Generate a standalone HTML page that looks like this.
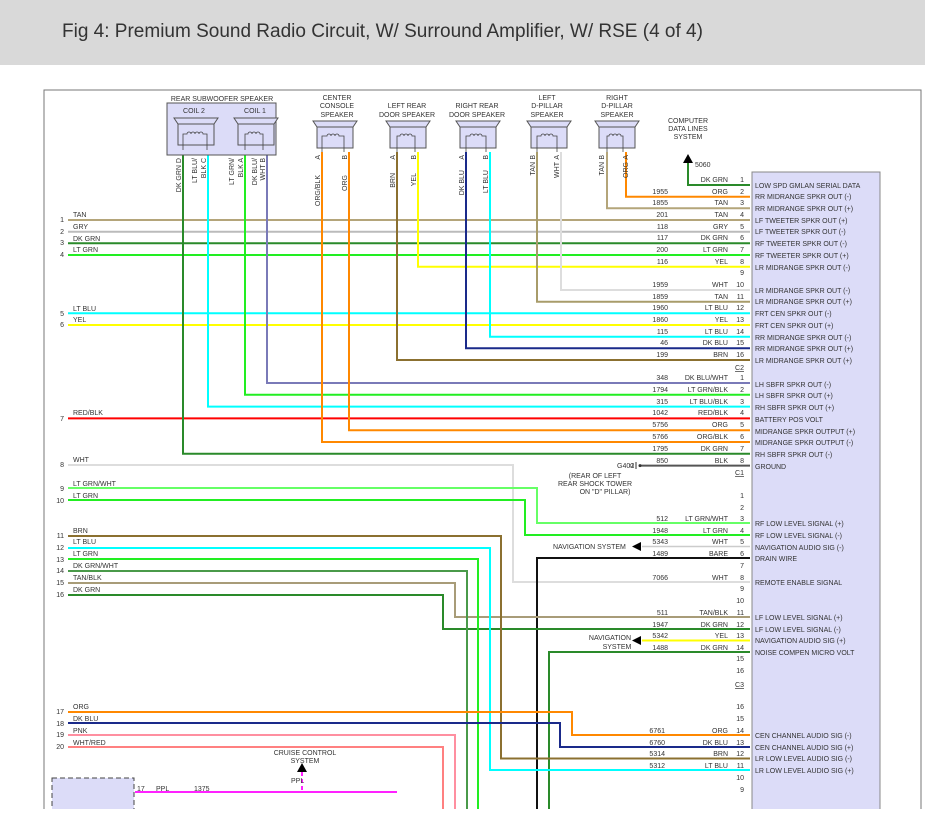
<!DOCTYPE html>
<html><head><meta charset="utf-8"><style>
body{margin:0;background:#fff;width:925px;height:809px;overflow:hidden}
svg text{font-family:"Liberation Sans",sans-serif;fill:#333}
</style></head><body>
<svg width="925" height="809" viewBox="0 0 925 809" xmlns="http://www.w3.org/2000/svg">
<rect x="0" y="0" width="925" height="65" fill="#d9d9d9"/>
<text x="62" y="37" style="font-size:19px;fill:#333">Fig 4: Premium Sound Radio Circuit, W/ Surround Amplifier, W/ RSE (4 of 4)</text>
<path d="M44 809V90H921V809" fill="none" stroke="#777" stroke-width="1"/>
<rect x="752" y="172" width="128" height="640" fill="#dcdcf8" stroke="#888"/>

<g fill="none" stroke-width="2">
<!-- C2 -->
<polyline points="688,162 688,185 750,185" stroke="#2a8a2a"/>
<polyline points="626,152 626,196.7 750,196.7" stroke="#ff8800"/>
<polyline points="607,152 607,208.3 750,208.3" stroke="#b4a57a"/>
<polyline points="68,220 750,220" stroke="#b4a57a"/>
<polyline points="68,231.7 750,231.7" stroke="#bbbbbb"/>
<polyline points="68,243.3 750,243.3" stroke="#2a8a2a"/>
<polyline points="68,255 750,255" stroke="#22ee22"/>
<polyline points="418,152 418,266.7 750,266.7" stroke="#ffff00"/>
<polyline points="561,152 561,290 750,290" stroke="#dddddd"/>
<polyline points="537,152 537,301.7 750,301.7" stroke="#a89c6a"/>
<polyline points="68,313.3 750,313.3" stroke="#00ffff"/>
<polyline points="68,325 750,325" stroke="#ffff00"/>
<polyline points="490,152 490,336.7 750,336.7" stroke="#00ffff"/>
<polyline points="466,152 466,348.3 750,348.3" stroke="#1a2a8a"/>
<polyline points="397,152 397,360 750,360" stroke="#8b7030"/>
<!-- C1 -->
<polyline points="267,152 267,383 750,383" stroke="#7a7ab8"/>
<polyline points="245,152 245,394.8 750,394.8" stroke="#22ee22"/>
<polyline points="208,152 208,406.6 750,406.6" stroke="#00ffff"/>
<polyline points="68,418.4 750,418.4" stroke="#ff0000"/>
<polyline points="349,152 349,430.2 750,430.2" stroke="#ff8800"/>
<polyline points="322,152 322,442 750,442" stroke="#ff8800"/>
<polyline points="183,152 183,453.8 750,453.8" stroke="#2a8a2a"/>
<polyline points="640,465.6 750,465.6" stroke="#555"/>
<!-- C3 -->
<polyline points="68,465 513,465 513,582 750,582" stroke="#dddddd"/>
<polyline points="68,488 537,488 537,523 750,523" stroke="#66ff66"/>
<polyline points="68,500 525,500 525,535 750,535" stroke="#22ee22"/>
<polyline points="642,546.5 750,546.5" stroke="#cccccc" stroke-width="1.5"/>
<polyline points="537,809 537,558 750,558" stroke="#111"/>
<polyline points="68,583 455,583 455,617 750,617" stroke="#a89c78"/>
<polyline points="68,595 443,595 443,629 750,629" stroke="#2a8a2a"/>
<polyline points="642,640.5 750,640.5" stroke="#ffff00"/>
<polyline points="549,809 549,652 750,652" stroke="#2a8a2a"/>
<!-- C4 -->
<polyline points="68,536 501,536 501,758.5 750,758.5" stroke="#8b7030"/>
<polyline points="68,548 490,548 490,770 750,770" stroke="#00ffff"/>
<polyline points="68,559 478,559 478,809" stroke="#22ee22"/>
<polyline points="68,571 467,571 467,809" stroke="#4a9a4a"/>
<polyline points="68,712 572,712 572,735 750,735" stroke="#ff8800"/>
<polyline points="68,723 560,723 560,747 750,747" stroke="#1a2a8a"/>
<polyline points="68,735 455,735 455,809" stroke="#ff8fa0"/>
<polyline points="68,747 443,747 443,809" stroke="#ff8080"/>
<polyline points="135,792 397,792" stroke="#ff22ff"/>
<polyline points="302,772 302,792" stroke="#ff22ff" stroke-dasharray="4,3"/>
</g>
<polygon points="302,763 297,772 307,772" fill="#000"/>
<polygon points="688,154 683,163 693,163" fill="#000"/>
<polygon points="632,546.5 641,542 641,551" fill="#000"/>
<polygon points="632,640.5 641,636 641,645" fill="#000"/>
<rect x="52" y="778" width="82" height="40" fill="#dcdcf8" stroke="#444" stroke-dasharray="5,3"/>
<path d="M636 462v7M633 463v5M630 464v3" stroke="#333"/>
<circle cx="640" cy="465.6" r="1.5" fill="#333"/>

<!-- speakers -->
<rect x="167" y="103" width="109" height="52" fill="#dcdcf8" stroke="#555"/>
<g fill="#dcdcf8" stroke="#555" stroke-width="1">
<path d="M174 118h44l-4 6h-36z"/><rect x="178" y="124" width="36" height="21"/>
<path d="M234 118h44l-4 6h-36z"/><rect x="238" y="124" width="36" height="21"/>
<path d="M313 121h44l-4 6h-36z"/><rect x="317" y="127" width="36" height="21"/>
<path d="M386 121h44l-4 6h-36z"/><rect x="390" y="127" width="36" height="21"/>
<path d="M456 121h44l-4 6h-36z"/><rect x="460" y="127" width="36" height="21"/>
<path d="M527 121h44l-4 6h-36z"/><rect x="531" y="127" width="36" height="21"/>
<path d="M595 121h44l-4 6h-36z"/><rect x="599" y="127" width="36" height="21"/>
</g>
<g fill="none" stroke="#444" stroke-width="0.8">
<path d="M183 150v-16h4a2 2 0 0 1 4 0a2 2 0 0 1 4 0a2 2 0 0 1 4 0a2 2 0 0 1 4 0h4v16"/>
<path d="M245 150v-16h3a2 2 0 0 1 4 0a2 2 0 0 1 4 0a2 2 0 0 1 4 0h3v16"/>
<path d="M322 152v-16h5a2 2 0 0 1 4 0a2 2 0 0 1 4 0a2 2 0 0 1 4 0h5v16"/>
<path d="M397 152v-16h3a2 2 0 0 1 4 0a2 2 0 0 1 4 0a2 2 0 0 1 4 0h3v16"/>
<path d="M466 152v-16h4a2 2 0 0 1 4 0a2 2 0 0 1 4 0a2 2 0 0 1 4 0h4v16"/>
<path d="M537 152v-16h4a2 2 0 0 1 4 0a2 2 0 0 1 4 0a2 2 0 0 1 4 0h4v16"/>
<path d="M607 152v-16h2a2 2 0 0 1 4 0a2 2 0 0 1 4 0a2 2 0 0 1 4 0h2v16"/>
</g>

<g style="font-size:7px" text-anchor="middle">
<text x="222" y="101">REAR SUBWOOFER SPEAKER</text>
<text x="194" y="113">COIL 2</text><text x="255" y="113">COIL 1</text>
<text x="337" y="100">CENTER</text><text x="337" y="108">CONSOLE</text><text x="337" y="117">SPEAKER</text>
<text x="407" y="108">LEFT REAR</text><text x="407" y="117">DOOR SPEAKER</text>
<text x="477" y="108">RIGHT REAR</text><text x="477" y="117">DOOR SPEAKER</text>
<text x="547" y="100">LEFT</text><text x="547" y="108">D-PILLAR</text><text x="547" y="117">SPEAKER</text>
<text x="617" y="100">RIGHT</text><text x="617" y="108">D-PILLAR</text><text x="617" y="117">SPEAKER</text>
<text x="688" y="123">COMPUTER</text><text x="688" y="131">DATA LINES</text><text x="688" y="139">SYSTEM</text>
<text x="305" y="755">CRUISE CONTROL</text><text x="305" y="763">SYSTEM</text>
<text x="595" y="478">(REAR OF LEFT</text><text x="595" y="486">REAR SHOCK TOWER</text><text x="605" y="494">ON "D" PILLAR)</text>
<text x="610" y="640">NAVIGATION</text><text x="617" y="649">SYSTEM</text>
</g>
<g style="font-size:7px">
<text x="695" y="167">5060</text>
<text x="617" y="468">G402</text>
<text x="553" y="549">NAVIGATION SYSTEM</text>
<text x="291" y="783">PPL</text>
<text x="137" y="791">17</text><text x="156" y="791">PPL</text><text x="194" y="791">1375</text>
</g>
<g style="font-size:7px" text-anchor="end">
<text transform="translate(181,158) rotate(-90)">DK GRN D</text>
<text transform="translate(197,158) rotate(-90)">LT BLU/</text>
<text transform="translate(206,158) rotate(-90)">BLK  C</text>
<text transform="translate(234,158) rotate(-90)">LT GRN/</text>
<text transform="translate(243,158) rotate(-90)">BLK  A</text>
<text transform="translate(257,158) rotate(-90)">DK BLU/</text>
<text transform="translate(265,158) rotate(-90)">WHT  B</text>
<text transform="translate(320,155) rotate(-90)">A</text><text transform="translate(320,175) rotate(-90)">ORG/BLK</text>
<text transform="translate(347,155) rotate(-90)">B</text><text transform="translate(347,175) rotate(-90)">ORG</text>
<text transform="translate(395,155) rotate(-90)">A</text><text transform="translate(395,173) rotate(-90)">BRN</text>
<text transform="translate(416,155) rotate(-90)">B</text><text transform="translate(416,173) rotate(-90)">YEL</text>
<text transform="translate(464,155) rotate(-90)">A</text><text transform="translate(464,170) rotate(-90)">DK BLU</text>
<text transform="translate(488,155) rotate(-90)">B</text><text transform="translate(488,170) rotate(-90)">LT BLU</text>
<text transform="translate(535,155) rotate(-90)">B</text><text transform="translate(535,162) rotate(-90)">TAN</text>
<text transform="translate(559,155) rotate(-90)">A</text><text transform="translate(559,162) rotate(-90)">WHT</text>
<text transform="translate(604,155) rotate(-90)">B</text><text transform="translate(604,162) rotate(-90)">TAN</text>
<text transform="translate(628,155) rotate(-90)">A</text><text transform="translate(628,162) rotate(-90)">ORG</text>
</g>

<!-- left labels -->
<g style="font-size:7px">
<g text-anchor="end">
<text x="64" y="222">1</text><text x="64" y="234">2</text><text x="64" y="245">3</text><text x="64" y="257">4</text>
<text x="64" y="316">5</text><text x="64" y="327">6</text><text x="64" y="421">7</text><text x="64" y="467">8</text>
<text x="64" y="491">9</text><text x="64" y="503">10</text><text x="64" y="538">11</text><text x="64" y="550">12</text>
<text x="64" y="562">13</text><text x="64" y="573">14</text><text x="64" y="585">15</text><text x="64" y="597">16</text>
<text x="64" y="714">17</text><text x="64" y="726">18</text><text x="64" y="737">19</text><text x="64" y="749">20</text>
</g>
<text x="73" y="217">TAN</text><text x="73" y="229">GRY</text><text x="73" y="241">DK GRN</text><text x="73" y="252">LT GRN</text>
<text x="73" y="311">LT BLU</text><text x="73" y="322">YEL</text><text x="73" y="415">RED/BLK</text><text x="73" y="462">WHT</text>
<text x="73" y="486">LT GRN/WHT</text><text x="73" y="498">LT GRN</text><text x="73" y="533">BRN</text><text x="73" y="544">LT BLU</text>
<text x="73" y="556">LT GRN</text><text x="73" y="568">DK GRN/WHT</text><text x="73" y="580">TAN/BLK</text><text x="73" y="592">DK GRN</text>
<text x="73" y="709">ORG</text><text x="73" y="721">DK BLU</text><text x="73" y="733">PNK</text><text x="73" y="745">WHT/RED</text>
</g>

<!-- right-side row labels: circuit, color, pin -->
<g style="font-size:7px" text-anchor="end">
<text x="728" y="182">DK GRN</text><text x="744" y="182">1</text>
<text x="668" y="194">1955</text><text x="728" y="194">ORG</text><text x="744" y="194">2</text>
<text x="668" y="205">1855</text><text x="728" y="205">TAN</text><text x="744" y="205">3</text>
<text x="668" y="217">201</text><text x="728" y="217">TAN</text><text x="744" y="217">4</text>
<text x="668" y="229">118</text><text x="728" y="229">GRY</text><text x="744" y="229">5</text>
<text x="668" y="240">117</text><text x="728" y="240">DK GRN</text><text x="744" y="240">6</text>
<text x="668" y="252">200</text><text x="728" y="252">LT GRN</text><text x="744" y="252">7</text>
<text x="668" y="264">116</text><text x="728" y="264">YEL</text><text x="744" y="264">8</text>
<text x="744" y="275">9</text>
<text x="668" y="287">1959</text><text x="728" y="287">WHT</text><text x="744" y="287">10</text>
<text x="668" y="299">1859</text><text x="728" y="299">TAN</text><text x="744" y="299">11</text>
<text x="668" y="310">1960</text><text x="728" y="310">LT BLU</text><text x="744" y="310">12</text>
<text x="668" y="322">1860</text><text x="728" y="322">YEL</text><text x="744" y="322">13</text>
<text x="668" y="334">115</text><text x="728" y="334">LT BLU</text><text x="744" y="334">14</text>
<text x="668" y="345">46</text><text x="728" y="345">DK BLU</text><text x="744" y="345">15</text>
<text x="668" y="357">199</text><text x="728" y="357">BRN</text><text x="744" y="357">16</text>
<text x="744" y="370" text-decoration="underline">C2</text>
<text x="668" y="380">348</text><text x="728" y="380">DK BLU/WHT</text><text x="744" y="380">1</text>
<text x="668" y="392">1794</text><text x="728" y="392">LT GRN/BLK</text><text x="744" y="392">2</text>
<text x="668" y="404">315</text><text x="728" y="404">LT BLU/BLK</text><text x="744" y="404">3</text>
<text x="668" y="415">1042</text><text x="728" y="415">RED/BLK</text><text x="744" y="415">4</text>
<text x="668" y="427">5756</text><text x="728" y="427">ORG</text><text x="744" y="427">5</text>
<text x="668" y="439">5766</text><text x="728" y="439">ORG/BLK</text><text x="744" y="439">6</text>
<text x="668" y="451">1795</text><text x="728" y="451">DK GRN</text><text x="744" y="451">7</text>
<text x="668" y="463">850</text><text x="728" y="463">BLK</text><text x="744" y="463">8</text>
<text x="744" y="475" text-decoration="underline">C1</text>
<text x="744" y="498">1</text><text x="744" y="510">2</text>
<text x="668" y="521">512</text><text x="728" y="521">LT GRN/WHT</text><text x="744" y="521">3</text>
<text x="668" y="533">1948</text><text x="728" y="533">LT GRN</text><text x="744" y="533">4</text>
<text x="668" y="544">5343</text><text x="728" y="544">WHT</text><text x="744" y="544">5</text>
<text x="668" y="556">1489</text><text x="728" y="556">BARE</text><text x="744" y="556">6</text>
<text x="744" y="568">7</text>
<text x="668" y="580">7066</text><text x="728" y="580">WHT</text><text x="744" y="580">8</text>
<text x="744" y="591">9</text><text x="744" y="603">10</text>
<text x="668" y="615">511</text><text x="728" y="615">TAN/BLK</text><text x="744" y="615">11</text>
<text x="668" y="627">1947</text><text x="728" y="627">DK GRN</text><text x="744" y="627">12</text>
<text x="668" y="638">5342</text><text x="728" y="638">YEL</text><text x="744" y="638">13</text>
<text x="668" y="650">1488</text><text x="728" y="650">DK GRN</text><text x="744" y="650">14</text>
<text x="744" y="661">15</text><text x="744" y="673">16</text>
<text x="744" y="687" text-decoration="underline">C3</text>
<text x="744" y="709">16</text><text x="744" y="721">15</text>
<text x="665" y="733">6761</text><text x="728" y="733">ORG</text><text x="744" y="733">14</text>
<text x="665" y="745">6760</text><text x="728" y="745">DK BLU</text><text x="744" y="745">13</text>
<text x="665" y="756">5314</text><text x="728" y="756">BRN</text><text x="744" y="756">12</text>
<text x="665" y="768">5312</text><text x="728" y="768">LT BLU</text><text x="744" y="768">11</text>
<text x="744" y="780">10</text><text x="744" y="792">9</text>
</g>

<!-- module labels -->
<g style="font-size:7px">
<text x="755" y="188">LOW SPD GMLAN SERIAL DATA</text>
<text x="755" y="199">RR MIDRANGE SPKR OUT (-)</text>
<text x="755" y="211">RR MIDRANGE SPKR OUT (+)</text>
<text x="755" y="223">LF TWEETER SPKR OUT (+)</text>
<text x="755" y="234">LF TWEETER SPKR OUT (-)</text>
<text x="755" y="246">RF TWEETER SPKR OUT (-)</text>
<text x="755" y="258">RF TWEETER SPKR OUT (+)</text>
<text x="755" y="270">LR MIDRANGE SPKR OUT (-)</text>
<text x="755" y="293">LR MIDRANGE SPKR OUT (-)</text>
<text x="755" y="304">LR MIDRANGE SPKR OUT (+)</text>
<text x="755" y="316">FRT CEN SPKR OUT (-)</text>
<text x="755" y="328">FRT CEN SPKR OUT (+)</text>
<text x="755" y="340">RR MIDRANGE SPKR OUT (-)</text>
<text x="755" y="351">RR MIDRANGE SPKR OUT (+)</text>
<text x="755" y="363">LR MIDRANGE SPKR OUT (+)</text>
<text x="755" y="387">LH SBFR SPKR OUT (-)</text>
<text x="755" y="398">LH SBFR SPKR OUT (+)</text>
<text x="755" y="410">RH SBFR SPKR OUT (+)</text>
<text x="755" y="422">BATTERY POS VOLT</text>
<text x="755" y="434">MIDRANGE SPKR OUTPUT (+)</text>
<text x="755" y="445">MIDRANGE SPKR OUTPUT (-)</text>
<text x="755" y="457">RH SBFR SPKR OUT (-)</text>
<text x="755" y="469">GROUND</text>
<text x="755" y="526">RF LOW LEVEL SIGNAL (+)</text>
<text x="755" y="538">RF LOW LEVEL SIGNAL (-)</text>
<text x="755" y="550">NAVIGATION AUDIO SIG (-)</text>
<text x="755" y="561">DRAIN WIRE</text>
<text x="755" y="585">REMOTE ENABLE SIGNAL</text>
<text x="755" y="620">LF LOW LEVEL SIGNAL (+)</text>
<text x="755" y="632">LF LOW LEVEL SIGNAL (-)</text>
<text x="755" y="643">NAVIGATION AUDIO SIG (+)</text>
<text x="755" y="655">NOISE COMPEN MICRO VOLT</text>
<text x="755" y="738">CEN CHANNEL AUDIO SIG (-)</text>
<text x="755" y="750">CEN CHANNEL AUDIO SIG (+)</text>
<text x="755" y="761">LR LOW LEVEL AUDIO SIG (-)</text>
<text x="755" y="773">LR LOW LEVEL AUDIO SIG (+)</text>
</g>
</svg>
</body></html>
